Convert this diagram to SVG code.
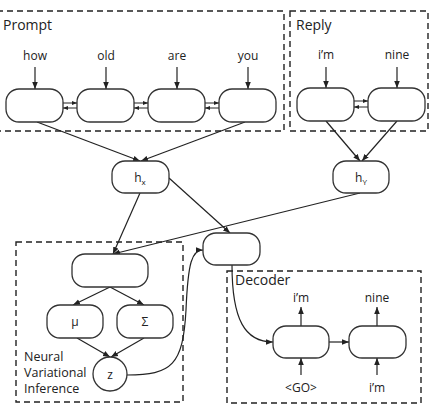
<svg xmlns="http://www.w3.org/2000/svg" width="431" height="408" viewBox="0 0 431 408">
<defs>
<marker id="ah" viewBox="0 0 10 10" refX="10" refY="5" markerWidth="7" markerHeight="7" markerUnits="userSpaceOnUse" orient="auto">
<path d="M0,1 L10,5 L0,9 z" fill="#222"/>
</marker>
<marker id="as" viewBox="0 0 10 10" refX="10" refY="5" markerWidth="5" markerHeight="5" markerUnits="userSpaceOnUse" orient="auto">
<path d="M0,1 L10,5 L0,9 z" fill="#222"/>
</marker>
</defs>
<style>
.box{fill:none;stroke:#222;stroke-width:1.4;stroke-dasharray:6 4}
.node{fill:#fff;stroke:#333;stroke-width:1.3}
.c{fill:none;stroke:#222;stroke-width:1.2;marker-end:url(#ah)}
.cs{fill:none;stroke:#222;stroke-width:1;marker-end:url(#as)}
text{font-family:"Open Sans","DejaVu Sans",sans-serif;fill:#222}
.t{font-size:12px;text-anchor:middle}
.title{font-size:14px}
.lbl{font-size:12.5px}
</style>
<rect width="431" height="408" fill="#fff"/>
<g id="prompt-box">
<rect class="box" x="-3" y="11" width="287" height="120"/>
<text class="title" x="3" y="30">Prompt</text>
</g>
<g id="reply-box">
<rect class="box" x="290" y="11" width="138" height="120"/>
<text class="title" x="296" y="30">Reply</text>
</g>
<g id="nvi-box">
<rect class="box" x="16" y="242" width="167" height="160"/>
<text class="lbl" x="24" y="361">Neural</text>
<text class="lbl" x="24" y="377">Variational</text>
<text class="lbl" x="24" y="393">Inference</text>
</g>
<g id="decoder-box">
<rect class="box" x="227" y="271" width="194" height="132"/>
<text class="title" x="235" y="285">Decoder</text>
</g>
<g id="connectors">
<line class="c" x1="35" y1="67" x2="35" y2="89"/>
<line class="c" x1="106" y1="67" x2="106" y2="89"/>
<line class="c" x1="177" y1="67" x2="177" y2="89"/>
<line class="c" x1="248" y1="67" x2="248" y2="89"/>
<line class="c" x1="326" y1="67" x2="326" y2="88"/>
<line class="c" x1="397" y1="67" x2="397" y2="88"/>
<line class="cs" x1="63" y1="103" x2="77" y2="103"/>
<line class="cs" x1="77" y1="108" x2="63" y2="108"/>
<line class="cs" x1="134" y1="103" x2="148" y2="103"/>
<line class="cs" x1="148" y1="108" x2="134" y2="108"/>
<line class="cs" x1="205" y1="103" x2="219" y2="103"/>
<line class="cs" x1="219" y1="108" x2="205" y2="108"/>
<line class="cs" x1="354" y1="101" x2="368" y2="101"/>
<line class="cs" x1="368" y1="107" x2="354" y2="107"/>
<line class="c" x1="37" y1="122" x2="140" y2="161"/>
<line class="c" x1="245" y1="122" x2="141" y2="161"/>
<line class="c" x1="326" y1="121" x2="360" y2="161"/>
<line class="c" x1="397" y1="121" x2="362" y2="161"/>
<line class="c" x1="169" y1="178" x2="230" y2="233"/>
<line class="c" x1="140" y1="193" x2="113" y2="254"/>
<line class="c" x1="360" y1="193" x2="113" y2="254"/>
<line class="c" x1="110" y1="287" x2="73" y2="305"/>
<line class="c" x1="110" y1="287" x2="144" y2="305"/>
<line class="c" x1="77" y1="338" x2="110" y2="357"/>
<line class="c" x1="144" y1="338" x2="111" y2="357"/>
<path class="c" d="M127,375 C172,375 183,365 186,310 C188,262 192,250 203,250"/>
<path class="c" d="M232,265 C232,320 245,342 273,342"/>
<line class="c" x1="329" y1="342" x2="349" y2="342"/>
<line class="c" x1="301" y1="326" x2="301" y2="307"/>
<line class="c" x1="377" y1="326" x2="377" y2="307"/>
<line class="c" x1="301" y1="375" x2="301" y2="358"/>
<line class="c" x1="377" y1="375" x2="377" y2="358"/>
</g>
<g id="word-how"><text class="t" x="35" y="60">how</text></g>
<g id="word-old"><text class="t" x="106" y="60">old</text></g>
<g id="word-are"><text class="t" x="177" y="60">are</text></g>
<g id="word-you"><text class="t" x="248" y="60">you</text></g>
<g id="word-im"><text class="t" x="326" y="59">i’m</text></g>
<g id="word-nine"><text class="t" x="397" y="59">nine</text></g>
<g id="enc1"><rect class="node" x="6" y="89" width="57" height="33" rx="13"/></g>
<g id="enc2"><rect class="node" x="77" y="89" width="57" height="33" rx="13"/></g>
<g id="enc3"><rect class="node" x="148" y="89" width="57" height="33" rx="13"/></g>
<g id="enc4"><rect class="node" x="219" y="89" width="57" height="33" rx="13"/></g>
<g id="rep1"><rect class="node" x="297" y="88" width="57" height="33" rx="13"/></g>
<g id="rep2"><rect class="node" x="368" y="88" width="57" height="33" rx="13"/></g>
<g id="hx"><rect class="node" x="112" y="161" width="57" height="32" rx="13"/><text class="t" x="140" y="182">h<tspan font-size="8" dy="3">x</tspan></text></g>
<g id="hy"><rect class="node" x="333" y="161" width="56" height="32" rx="13"/><text class="t" x="361" y="182">h<tspan font-size="8" dy="3">Y</tspan></text></g>
<g id="init"><rect class="node" x="203" y="233" width="57" height="32" rx="13"/></g>
<g id="nvi-top"><rect class="node" x="72" y="254" width="76" height="33" rx="13"/></g>
<g id="mu"><rect class="node" x="47" y="305" width="56" height="33" rx="13"/><text class="t" x="75" y="326">μ</text></g>
<g id="sigma"><rect class="node" x="117" y="305" width="56" height="33" rx="13"/><text class="t" x="145" y="326">Σ</text></g>
<g id="z"><circle class="node" cx="110" cy="374" r="17"/><text class="t" x="110" y="379">z</text></g>
<g id="dec1"><rect class="node" x="273" y="326" width="56" height="32" rx="13"/></g>
<g id="dec2"><rect class="node" x="349" y="326" width="57" height="32" rx="13"/></g>
<g id="out-im"><text class="t" x="301" y="302">i’m</text></g>
<g id="out-nine"><text class="t" x="377" y="302">nine</text></g>
<g id="in-go"><text class="t" x="301" y="392">&lt;GO&gt;</text></g>
<g id="in-im"><text class="t" x="377" y="392">i’m</text></g>
</svg>
